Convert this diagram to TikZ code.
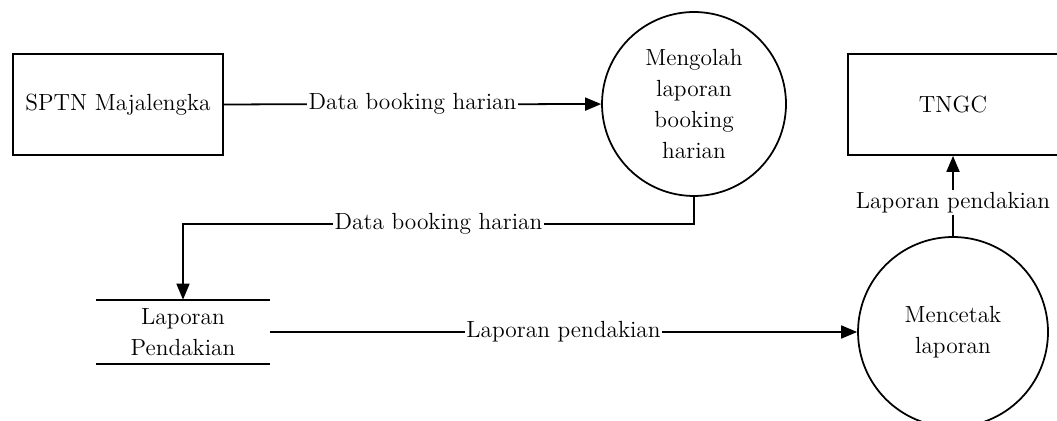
\documentclass[tikz,border=0pt]{standalone}
\usetikzlibrary{arrows.meta, positioning}

\begin{document}
\begin{tikzpicture}[
    x=0.02cm, y=-0.02cm,
    font=\fontsize{13.3}{17.5}\selectfont,
    entity/.style={draw, line width=1pt, minimum width=4.2cm, minimum height=2.02cm},
    proc/.style={draw, circle, line width=1pt, align=center, inner sep=0pt},
    store/.style={minimum width=3.46cm, minimum height=1.28cm, align=center, inner sep=0pt},
    lbl/.style={fill=white, inner sep=1pt},
    flow/.style={-{Triangle[length=3.2mm, width=2.6mm]}, line width=1pt}
]
    \clip (0,0) rectangle (1057,421);

    % Entities
    \node[entity] (sptn) at (118,104.5) {SPTN Majalengka};
    \node[entity] (tngc) at (953,104.5) {TNGC};

    % Processes
    \node[proc, minimum size=3.68cm] (olah) at (694,104) {Mengolah\\laporan\\booking\\harian};
    \node[proc, minimum size=3.8cm] (cetak) at (953,332) {Mencetak\\laporan};

    % Data store
    \node[store] (lap) at (183,332) {Laporan\\Pendakian};
    \draw[line width=1pt] (lap.north west) -- (lap.north east);
    \draw[line width=1pt] (lap.south west) -- (lap.south east);

    % Flows
    \draw[flow] (sptn) -- node[lbl] {Data booking harian} (olah);
    \draw[flow] (olah.south) -- ++(0,27) -| node[lbl, pos=0.25] {Data booking harian} (lap.north);
    \draw[flow] (lap) -- node[lbl] {Laporan pendakian} (cetak);
    \draw[flow] (cetak) -- node[lbl, pos=0.42] {Laporan pendakian} (tngc);
\end{tikzpicture}
\end{document}
